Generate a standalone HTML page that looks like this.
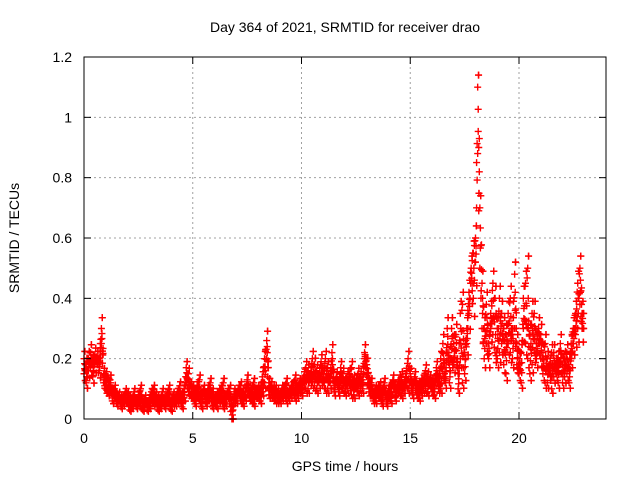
<!DOCTYPE html>
<html><head><meta charset="utf-8"><style>
body{margin:0;background:#fff;}
svg{display:block;font-family:"Liberation Sans",sans-serif;}
</style></head><body>
<svg id="chart" width="640" height="480">
<text x="345" y="32" font-size="14" text-anchor="middle">Day 364 of 2021, SRMTID for receiver drao</text>
<text x="345" y="471" font-size="14" text-anchor="middle">GPS time / hours</text>
<text x="0" y="0" font-size="14" text-anchor="middle" transform="translate(19,238) rotate(-90)">SRMTID / TECUs</text>
<g id="grid"></g><g id="marks"></g><g id="axes"></g>
</svg>
<script>
const xTicks=[0,5,10,15,20];
const yTicks=[0,0.2,0.4,0.6,0.8,1,1.2];
const yTickLabels=["0","0.2","0.4","0.6","0.8","1","1.2"];
const startHour=0, stepHour=0.1;
const seriesA=[.15,.18,.2,.17,.19,.21,.18,.2,.3,.15,
.14,.12,.1,.09,.08,.07,.06,.07,.05,.06,
.05,.07,.04,.06,.05,.08,.04,.03,.06,.05,
.04,.06,.1,.05,.07,.04,.06,.05,.08,.05,
.06,.05,.07,.09,.06,.08,.1,.12,.15,.08,
.07,.09,.11,.06,.08,.1,.05,.07,.12,.04,
.05,.08,.06,.1,.04,.07,.09,.05,0,.06,
.08,.1,.06,.09,.07,.11,.08,.06,.12,.09,
.07,.1,.14,.2,.26,.12,.08,.1,.06,.09,
.08,.07,.1,.06,.09,.08,.11,.07,.1,.12,
.11,.14,.1,.16,.13,.12,.18,.1,.15,.13,
.12,.2,.1,.14,.16,.09,.13,.11,.17,.1,
.12,.1,.15,.08,.13,.11,.09,.14,.1,.2,
.18,.12,.1,.08,.06,.1,.07,.09,.12,.05,
.08,.1,.13,.07,.11,.09,.14,.1,.12,.2,
.15,.1,.12,.08,.11,.09,.13,.1,.14,.12,
.09,.11,.14,.1,.2,.15,.12,.22,.18,.3,
.25,.2,.15,.35,.12,.22,.3,.42,.5,.55,
.6,1.1,.7,.45,.3,.25,.2,.35,.28,.4,
.3,.22,.35,.18,.28,.25,.4,.2,.3,.18,
.15,.22,.3,.45,.2,.28,.18,.35,.25,.3,
.2,.15,.25,.12,.18,.1,.22,.15,.2,.18,
.12,.2,.15,.18,.25,.3,.28,.45,.38,.3];
const seriesB=[.2,.12,.16,.22,.14,.18,.2,.16,.25,.12,
.1,.09,.13,.06,.1,.05,.08,.04,.07,.09,
.08,.03,.06,.09,.04,.06,.1,.05,.07,.03,
.07,.09,.05,.08,.03,.06,.09,.04,.07,.1,
.03,.08,.05,.06,.11,.04,.07,.17,.09,.11,
.1,.05,.08,.13,.04,.09,.06,.1,.07,.09,
.07,.04,.09,.06,.12,.05,.08,.1,.04,.09,
.06,.09,.11,.05,.08,.13,.07,.1,.05,.08,
.1,.06,.09,.12,.2,.08,.11,.07,.1,.06,
.06,.1,.08,.12,.07,.1,.09,.13,.08,.1,
.09,.12,.17,.1,.14,.2,.11,.16,.12,.19,
.15,.1,.17,.12,.22,.11,.14,.09,.12,.15,
.09,.14,.11,.17,.08,.12,.15,.1,.13,.22,
.14,.09,.12,.06,.1,.08,.11,.05,.09,.07,
.1,.06,.12,.08,.1,.13,.08,.11,.15,.1,
.12,.08,.14,.1,.07,.12,.1,.16,.09,.13,
.12,.08,.17,.12,.1,.25,.14,.3,.12,.2,
.18,.28,.1,.2,.38,.15,.25,.35,.45,.4,
.52,.88,.5,.3,.2,.38,.25,.3,.45,.22,
.2,.4,.25,.3,.15,.35,.22,.3,.48,.25,
.2,.12,.4,.25,.5,.15,.35,.22,.2,.25,
.28,.22,.12,.2,.15,.22,.14,.18,.12,.25,
.18,.14,.22,.12,.2,.25,.35,.3,.5,.35];
const L=84,R=606,T=57,B=419;
const xS=h=>L+(h-0)/24*(R-L);
const yS=v=>B-v/1.2*(B-T);
const NS="http://www.w3.org/2000/svg";
function mk(tag,attrs,parent){const e=document.createElementNS(NS,tag);for(const k in attrs)e.setAttribute(k,attrs[k]);parent.appendChild(e);return e;}
const grid=document.getElementById('grid'),marks=document.getElementById('marks'),axes=document.getElementById('axes');
xTicks.forEach(t=>{const x=xS(t);
 if(t>0){const g=mk('line',{x1:x,x2:x,y1:T,y2:B,stroke:'#a0a0a0','stroke-dasharray':'2,3'},grid);
 
 }
 mk('line',{x1:x,x2:x,y1:B,y2:B-7,stroke:'#000'},axes);
 mk('line',{x1:x,x2:x,y1:T,y2:T+7,stroke:'#000'},axes);
 const lb=mk('text',{x:x,y:443,'font-size':14,'text-anchor':'middle'},axes);lb.textContent=String(t);
 
 });
yTicks.forEach((t,i)=>{const y=yS(t);
 if(t>0){const g=mk('line',{x1:L,x2:R,y1:y,y2:y,stroke:'#a0a0a0','stroke-dasharray':'2,3'},grid);
 
 }
 mk('line',{x1:L,x2:L+7,y1:y,y2:y,stroke:'#000'},axes);
 mk('line',{x1:R,x2:R-7,y1:y,y2:y,stroke:'#000'},axes);
 const lb=mk('text',{x:72,y:y+5,'font-size':14,'text-anchor':'end'},axes);lb.textContent=yTickLabels[i];
 
 });
const fr=mk('rect',{x:L,y:T,width:R-L,height:B-T,fill:'none',stroke:'#000'},axes);


function plus(x,y,col,name){const p=mk('path',{d:`M${x-3.5},${y}h7M${x},${y-3.5}v7`,stroke:col,'stroke-width':1.4,fill:'none'},marks);
 
 }
const n=seriesA.length;
[seriesB,seriesA].forEach((s,si)=>{const o=si?seriesB:seriesA;
 s.forEach((v,i)=>{const h=startHour+i*stepHour;const nx=s[Math.min(i+1,n-1)];const ov=o[i];
 const name=si?'point-a':'point-b';
 const mx=Math.max(v,ov);
 plus(xS(h),yS(v),'#ff0000',name);
 plus(xS(h+0.025),yS((2*v+ov)/3),'#ff0000',name);
 plus(xS(h+0.05),yS((v+nx)/2),'#ff0000',name);
 plus(xS(h+0.075),yS(Math.min((v+2*nx+ov)/4*1.1,Math.max(v,nx))),'#ff0000',name);
 plus(xS(h+0.04),yS(Math.min(mx*1.12,mx+0.04)),'#ff0000',name);
 plus(xS(h+0.06),yS(Math.min(v,ov)*0.85),'#ff0000',name);});});
</script>
</body></html>
